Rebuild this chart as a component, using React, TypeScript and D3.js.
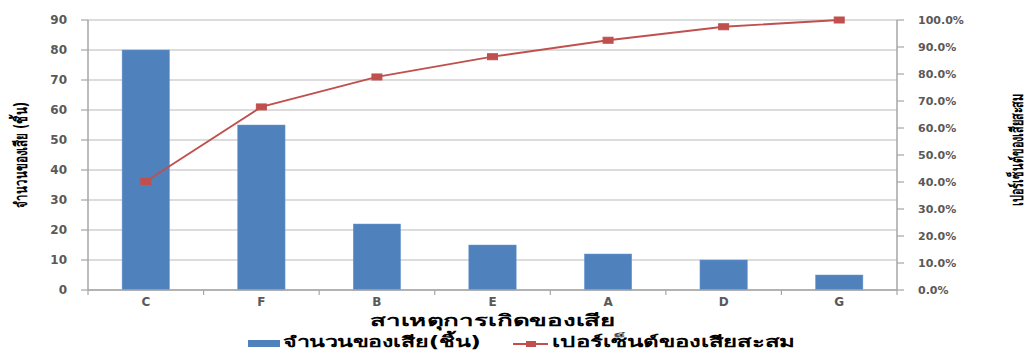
import React from "react";
import * as d3 from "d3";

const categories = ["C", "F", "B", "E", "A", "D", "G"];
const defects = [80, 55, 22, 15, 12, 10, 5];
const cumulativePct = [40.2, 67.8, 78.9, 86.4, 92.5, 97.5, 100];
const leftTicks = [0, 10, 20, 30, 40, 50, 60, 70, 80, 90];
const rightTicks = [0, 10, 20, 30, 40, 50, 60, 70, 80, 90, 100];

const W = 1027;
const H = 351;
const margin = { left: 88, right: 130, top: 20, bottom: 61 };

export default function App() {
  const x = d3
    .scaleBand<string>()
    .domain(categories)
    .range([margin.left, W - margin.right])
    .paddingInner(0.59)
    .paddingOuter(0.295);
  const xOuter = d3
    .scaleBand<string>()
    .domain(categories)
    .range([margin.left, W - margin.right]);
  const yL = d3.scaleLinear().domain([0, 90]).range([H - margin.bottom, margin.top]);
  const yR = d3.scaleLinear().domain([0, 100]).range([H - margin.bottom, margin.top]);
  const x0 = margin.left;
  const x1 = W - margin.right;
  const yb = H - margin.bottom;
  const textColor = "#595959";
  const font = "'DejaVu Sans', Verdana, sans-serif";
  const line = d3
    .line<number>()
    .x((_, i) => (xOuter(categories[i]) as number) + xOuter.bandwidth() / 2)
    .y((d) => yR(d));

  return (
    <svg width={W} height={H} style={{ position: "absolute", left: 0, top: 0, background: "#fff" }}>
      {/* gridlines */}
      {leftTicks.map((t) => (
        <line key={"g" + t} x1={x0} x2={x1} y1={yL(t)} y2={yL(t)} stroke="#d0d0d0" strokeWidth={1.5} />
      ))}
      {/* bars */}
      {categories.map((c, i) => (
        <rect
          key={c}
          x={x(c)}
          y={yL(defects[i])}
          width={x.bandwidth()}
          height={yb - yL(defects[i])}
          fill="#4F81BD"
          stroke="#6f9bd1"
          strokeWidth={0.5}
        />
      ))}
      {/* axes lines */}
      <line x1={x0} x2={x0} y1={margin.top} y2={yb} stroke="#a6a6a6" strokeWidth={1.5} />
      <line x1={x1} x2={x1} y1={margin.top} y2={yb} stroke="#a6a6a6" strokeWidth={1.5} />
      <line x1={x0} x2={x1} y1={yb} y2={yb} stroke="#a6a6a6" strokeWidth={1.5} />
      {/* left ticks */}
      {leftTicks.map((t) => (
        <g key={"l" + t}>
          <line x1={x0 - 7} x2={x0} y1={yL(t)} y2={yL(t)} stroke="#a6a6a6" strokeWidth={1.2} />
          <text x={67} y={yL(t)} dy="0.35em" textAnchor="end" fontSize={12} fontWeight="bold" fill={textColor} fontFamily={font}>
            {t}
          </text>
        </g>
      ))}
      {/* right ticks */}
      {rightTicks.map((t) => (
        <g key={"r" + t}>
          <line x1={x1} x2={x1 + 7} y1={yR(t)} y2={yR(t)} stroke="#a6a6a6" strokeWidth={1.2} />
          <text x={918} y={yR(t)} dy="0.35em" textAnchor="start" fontSize={11} fontWeight="bold" fill={textColor} fontFamily={font}>
            {t.toFixed(1) + "%"}
          </text>
        </g>
      ))}
      {/* x ticks */}
      {categories.map((c) => (
        <line key={"xt" + c} x1={xOuter(c)} x2={xOuter(c)} y1={yb} y2={yb + 5} stroke="#a6a6a6" strokeWidth={1.2} />
      ))}
      <line x1={x1} x2={x1} y1={yb} y2={yb + 5} stroke="#a6a6a6" strokeWidth={1.2} />
      {categories.map((c) => (
        <text
          key={"xl" + c}
          x={(xOuter(c) as number) + xOuter.bandwidth() / 2}
          y={306}
          textAnchor="middle"
          fontSize={12}
          fontWeight="bold"
          fill={textColor}
          fontFamily={font}
        >
          {c}
        </text>
      ))}
      {/* line series */}
      <path d={line(cumulativePct) || ""} fill="none" stroke="#C0504D" strokeWidth={1.8} />
      {cumulativePct.map((v, i) => (
        <rect
          key={"m" + i}
          x={(xOuter(categories[i]) as number) + xOuter.bandwidth() / 2 - 5}
          y={yR(v) - 3}
          width={10}
          height={6}
          fill="#C0504D"
          stroke="#C0504D"
        />
      ))}
      {/* axis titles */}
      <text
        transform={`translate(21,155) rotate(-90)`}
        textAnchor="middle"
        dy="0.35em"
        fontSize={17}
        fontWeight="bold"
        fill="#000"
        fontFamily={font}
        textLength={106}
        lengthAdjust="spacingAndGlyphs"
      >
        จำนวนของเสีย (ชิ้น)
      </text>
      <text
        transform={`translate(1017,150) rotate(-90)`}
        textAnchor="middle"
        dy="0.35em"
        fontSize={17}
        fontWeight="bold"
        fill="#000"
        fontFamily={font}
        textLength={112}
        lengthAdjust="spacingAndGlyphs"
      >
        เปอร์เซ็นต์ของเสียสะสม
      </text>
      <text
        x={370}
        y={326}
        fontSize={16}
        fontWeight="bold"
        fill="#000"
        fontFamily={font}
        textLength={245}
        lengthAdjust="spacingAndGlyphs"
      >
        สาเหตุการเกิดของเสีย
      </text>
      {/* legend */}
      <rect x={248} y={340} width={32} height={7} fill="#4F81BD" />
      <text
        x={283}
        y={347}
        fontSize={15}
        fontWeight="bold"
        fill="#000"
        fontFamily={font}
        textLength={198}
        lengthAdjust="spacingAndGlyphs"
      >
        จำนวนของเสีย(ชิ้น)
      </text>
      <line x1={513} x2={548} y1={344} y2={344} stroke="#C0504D" strokeWidth={2} />
      <rect x={526} y={341} width={10} height={6} fill="#C0504D" />
      <text
        x={552}
        y={347}
        fontSize={15}
        fontWeight="bold"
        fill="#000"
        fontFamily={font}
        textLength={243}
        lengthAdjust="spacingAndGlyphs"
      >
        เปอร์เซ็นต์ของเสียสะสม
      </text>
    </svg>
  );
}
